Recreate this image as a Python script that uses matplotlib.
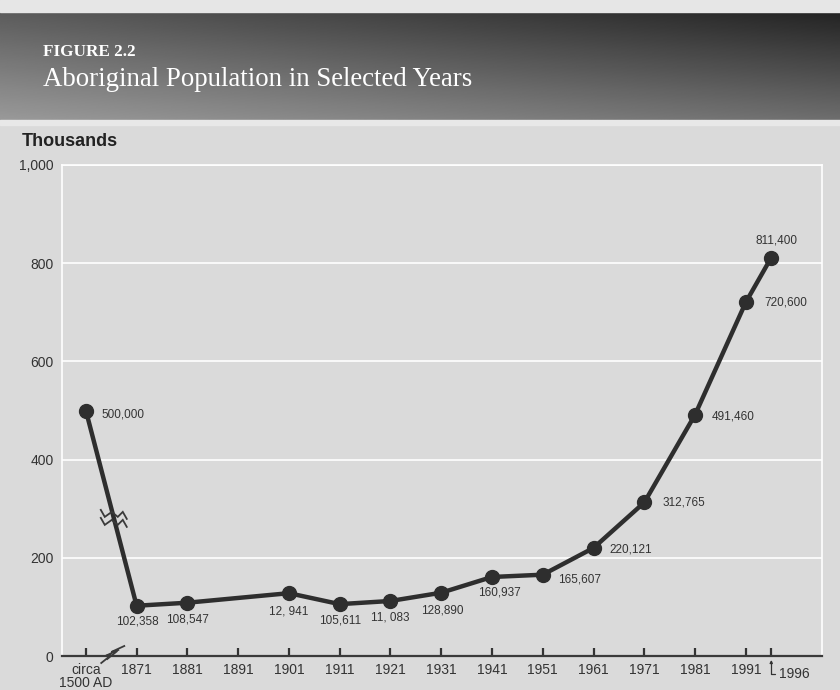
import numpy as np
import matplotlib
matplotlib.use("Agg")
import matplotlib.pyplot as plt
import matplotlib.transforms as mtransforms

# population in thousands; the 1500 AD estimate sits one slot left of 1871 (axis is broken)
years = [1500, 1871, 1881, 1901, 1911, 1921, 1931, 1941, 1951, 1961, 1971, 1981, 1991, 1996]
population = [500.0, 102.358, 108.547, 127.941, 105.611, 112.083, 128.890, 160.937,
              165.607, 220.121, 312.765, 491.460, 720.600, 811.400]
labels = ["500,000", "102,358", "108,547", "12, 941", "105,611", "11, 083", "128,890",
          "160,937", "165,607", "220,121", "312,765", "491,460", "720,600", "811,400"]
tick_years = [1500, 1871, 1881, 1891, 1901, 1911, 1921, 1931, 1941, 1951, 1961, 1971, 1981, 1991, 1996]
tick_labels = ["circa\n1500 AD", "1871", "1881", "1891", "1901", "1911", "1921", "1931",
               "1941", "1951", "1961", "1971", "1981", "1991", ""]
yticks = [0, 200, 400, 600, 800, 1000]
ytick_labels = ["0", "200", "400", "600", "800", "1,000"]

# where each value label goes relative to its point (points, ha)
label_pos = [((11, -3), "left"), ((0.7, -11), "center"), ((0, -12), "center"),
             ((0, -13.5), "center"), ((0, -12), "center"), ((0, -12), "center"),
             ((1, -13), "center"), ((5, -11.5), "center"), ((11, -3.5), "left"),
             ((11.5, -1), "left"), ((13, 0), "left"), ((12, -1), "left"),
             ((13.5, 0), "left"), ((4, 12), "center")]


def xpos(y):
    return 1861 if y == 1500 else y


BG = "#dadada"
INK = "#2e2e2e"
plt.rcParams['font.family'] = ['Liberation Sans', 'DejaVu Sans']

fig = plt.figure(figsize=(8.4, 6.9), dpi=100)
fig.patch.set_facecolor(BG)
W, H = 840.0, 690.0

# top strip of the page
fig.patches.append(plt.Rectangle((0, 1 - 12 / H), 1, 12 / H, transform=fig.transFigure,
                                 color="#e6e6e6", zorder=0))

# header band with dark gradient
hax = fig.add_axes([0, 1 - 120 / H, 1, 108 / H])
u = np.linspace(0, 1, 400)[None, :]
t = np.linspace(0, 1, 100)[:, None]
grad = 0.36 + 0.24 * t - 0.22 * u + 0.05 * t * u
hax.imshow(grad, cmap="gray", vmin=0, vmax=1, aspect="auto", extent=(0, 1, 0, 1))
hax.set_axis_off()
fig.text(43 / W, 1 - 52 / H, "FIGURE 2.2", color="white", family="Liberation Serif",
         fontsize=12.3, fontweight="bold", va="center", ha="left")
fig.text(43 / W, 1 - 80 / H, "Aboriginal Population in Selected Years", color="white",
         family="Liberation Serif", fontsize=19.4, va="center", ha="left")
fig.patches.append(plt.Rectangle((0, 1 - 125 / H), 1, 5 / H, transform=fig.transFigure,
                                 color="#e8e8e8", zorder=0))

# main chart
ax = fig.add_axes([62 / W, 1 - 656 / H, 760 / W, 491 / H])
ax.set_facecolor(BG)
ax.set_xlim(1856.3, 2006)
ax.set_ylim(0, 1000)
for s in ["left", "right", "top"]:
    ax.spines[s].set_color("white")
    ax.spines[s].set_linewidth(1.2)
ax.spines["bottom"].set_color("#3a3a3a")
ax.spines["bottom"].set_linewidth(1.6)
ax.yaxis.grid(True, color="white", linewidth=1.2)
ax.set_axisbelow(True)
ax.set_yticks(yticks)
ax.set_yticklabels(ytick_labels)
ax.tick_params(axis="y", length=0, pad=6, labelsize=10, labelcolor="#333333")
ax.set_xticks([xpos(y) for y in tick_years])
ax.set_xticklabels(tick_labels)
ax.tick_params(axis="x", direction="in", length=6, width=1.6, color="#333333",
               pad=5, labelsize=10, labelcolor="#333333")
for lab in ax.get_xticklabels():
    lab.set_linespacing(0.95)

xs = [xpos(y) for y in years]
ax.plot(xs, population, color=INK, linewidth=3.2, marker="o", markersize=10,
        clip_on=False, zorder=3)

for x, y, txt, (off, ha) in zip(xs, population, labels, label_pos):
    ax.annotate(txt, (x, y), xytext=off, textcoords="offset points", ha=ha, va="center",
                fontsize=8.5, color="#333333")

# 1996 label pulled to the right with a small leader
ax.annotate("1996", xy=(1996, -0.008), xycoords=("data", "axes fraction"),
            xytext=(5.5, -10), textcoords="offset points", ha="left", va="center",
            fontsize=10, color="#333333",
            arrowprops=dict(arrowstyle="-|>", mutation_scale=4, color="#333333", lw=0.9,
                            shrinkA=1, shrinkB=0,
                            connectionstyle="angle,angleA=0,angleB=90,rad=0"))

ax.text(-40 / 760, 1 + 23 / 491, "Thousands", transform=ax.transAxes, fontsize=13,
        fontweight="bold", color="#222222", ha="left", va="center")


# break symbols: two parallel zigzags, shape given in pixels around an anchor point
def zigzag(xd, yd, pts, shifts, yaxis_frac=False):
    base = ax.get_xaxis_transform() if yaxis_frac else ax.transData
    trans = fig.dpi_scale_trans + mtransforms.ScaledTranslation(xd, yd, base)
    pts = np.array(pts, dtype=float) / 100.0
    for dx, dy in shifts:
        ax.plot(pts[:, 0] + dx / 100.0, pts[:, 1] + dy / 100.0, color="#3a3a3a",
                linewidth=1.3, transform=trans, clip_on=False, zorder=4,
                solid_joinstyle="miter")


tb = 0.55
bx = xs[0] + tb * (xs[1] - xs[0])
by = population[0] + tb * (population[1] - population[0])
zigzag(bx, by, [(-13, 4), (-9, -3), (-2, 2), (4, -3), (9, 2), (13, -5)], [(0, 4), (0, -4)])
zigzag(1866.2, 0, [(-8, -4), (2, 4), (-4, 3), (9, 9)], [(-3, -3), (3, 1)], yaxis_frac=True)

plt.savefig("out.png", dpi=100, facecolor=fig.get_facecolor())
